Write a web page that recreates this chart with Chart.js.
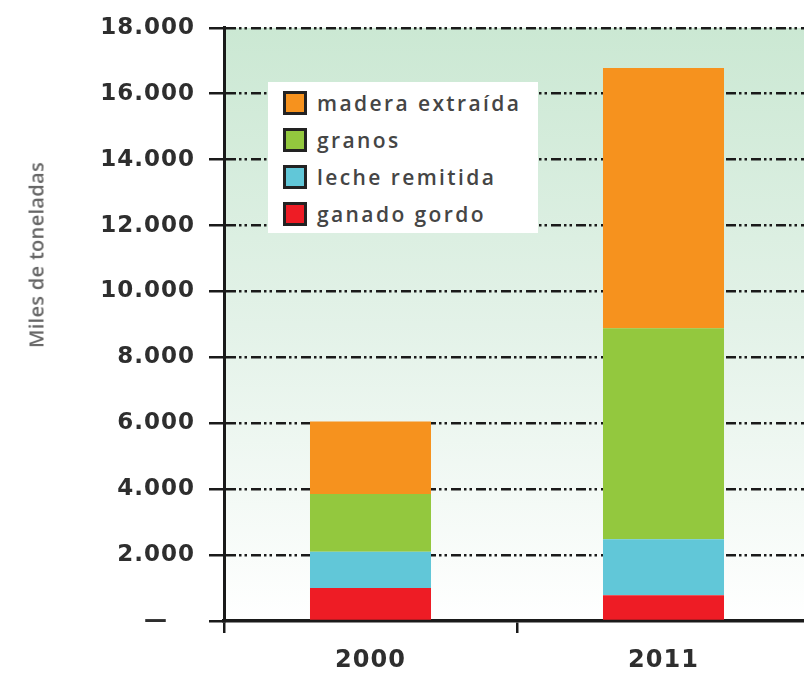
<!DOCTYPE html>
<html>
<head>
<meta charset="utf-8">
<script src="https://cdn.jsdelivr.net/npm/chart.js@4.4.1/dist/chart.umd.min.js"></script>
<style>
  body { margin: 0; background: #fff; overflow: hidden; }
  #wrap { position: relative; width: 804px; height: 693px; overflow: hidden; }
  #chartBox { position: absolute; left: 0; top: 0; width: 820px; height: 693px; }
  #yTitle {
    position: absolute; left: 36px; top: 255px;
    transform: translate(-50%, -50%) rotate(-90deg);
    font: 600 20px "Open Sans"; color: #666; white-space: nowrap; letter-spacing: 0.3px;
  }
  #legend {
    position: absolute; left: 268px; top: 82px; width: 270px; height: 151px;
    background: #fff; box-sizing: border-box; padding-top: 2px;
  }
  .item { height: 37px; display: flex; align-items: center; padding-left: 15px; }
  .sw { width: 18px; height: 18px; border: 3px solid #222; margin-right: 10px; }
  .item span { font: 600 21px "Open Sans"; color: #454545; letter-spacing: 2.4px; white-space: nowrap; }
</style>
</head>
<body>
<div id="wrap">
  <div id="chartBox"><canvas id="stockChart" width="820" height="693"></canvas></div>
  <div id="yTitle">Miles de toneladas</div>
  <div id="legend"></div>
</div>
<script>
// data (thousand tonnes)
const years = ['2000', '2011'];
const ganadoGordo = [1000, 780];
const lecheRemitida = [1100, 1700];
const granos = [1750, 6400];
const maderaExtraida = [2200, 7900];

const seriesNames = ['ganado gordo', 'leche remitida', 'granos', 'madera extraída'];
const seriesColors = ['#ee1c25', '#61c7d8', '#93c83e', '#f6921e'];

const yTickValues = [0, 2000, 4000, 6000, 8000, 10000, 12000, 14000, 16000, 18000];
const yTickLabels = ['—   ', '2.000', '4.000', '6.000', '8.000', '10.000', '12.000', '14.000', '16.000', '18.000'];

const ink = '#1a1a1a';

// background gradient + letter spacing for canvas text
const bgPlugin = {
    id: 'bgPlugin',
    beforeUpdate(chart) {
        chart.ctx.letterSpacing = '1px';
    },
    beforeDraw(chart) {
        const { ctx, chartArea } = chart;
        ctx.letterSpacing = '1px';
        const g = ctx.createLinearGradient(0, chartArea.top, 0, chartArea.bottom);
        g.addColorStop(0, '#cbe8d3');
        g.addColorStop(0.5, '#e3f2e8');
        g.addColorStop(1, '#ffffff');
        ctx.save();
        ctx.fillStyle = g;
        ctx.fillRect(chartArea.left, chartArea.top, chartArea.right - chartArea.left, chartArea.bottom - chartArea.top);
        ctx.restore();
    }
};

const allSeries = [ganadoGordo, lecheRemitida, granos, maderaExtraida];

const ctx = document.getElementById('stockChart').getContext('2d');
const chart = new Chart(ctx, {
    type: 'bar',
    data: {
        labels: years,
        datasets: allSeries.map((vals, i) => ({
            label: seriesNames[i],
            data: vals,
            backgroundColor: seriesColors[i],
            borderWidth: 0,
            barPercentage: 0.413,
            categoryPercentage: 1
        }))
    },
    options: {
        responsive: false,
        animation: false,
        events: [],
        layout: { padding: { top: 25, right: 10, left: 0, bottom: 0 } },
        plugins: {
            legend: { display: false },
            tooltip: { enabled: false }
        },
        scales: {
            x: {
                stacked: true,
                offset: true,
                afterFit: (s) => { s.height = 72; },
                grid: {
                    offset: true,
                    drawOnChartArea: false,
                    drawTicks: true,
                    tickLength: 12,
                    color: ink,
                    lineWidth: 2.5
                },
                border: { color: ink, width: 3.5 },
                ticks: {
                    padding: 13,
                    color: '#2e2e2e',
                    font: { family: 'DejaVu Sans', size: 24, weight: 'bold' }
                }
            },
            y: {
                stacked: true,
                min: 0,
                max: 18000,
                afterFit: (s) => { s.width = 224; },
                afterBuildTicks: (s) => { s.ticks = yTickValues.map(v => ({ value: v })); },
                grid: {
                    color: (c) => (c.tick && c.tick.value === 0) ? 'rgba(0,0,0,0)' : ink,
                    lineWidth: 2.5,
                    tickLength: 15,
                    tickColor: ink,
                    tickWidth: 2.5
                },
                border: { color: ink, width: 3, dash: [10, 3, 2.5, 3, 2.5, 4] },
                ticks: {
                    padding: 14,
                    color: '#2e2e2e',
                    font: { family: 'DejaVu Sans', size: 23, weight: 'bold' },
                    callback: (value) => yTickLabels[yTickValues.indexOf(value)]
                }
            }
        }
    },
    plugins: [bgPlugin]
});

// legend box, top series first
const legendEl = document.getElementById('legend');
for (let i = seriesNames.length - 1; i >= 0; i--) {
    const row = document.createElement('div');
    row.className = 'item';
    const sw = document.createElement('div');
    sw.className = 'sw';
    sw.style.background = seriesColors[i];
    const txt = document.createElement('span');
    txt.textContent = seriesNames[i];
    row.appendChild(sw);
    row.appendChild(txt);
    legendEl.appendChild(row);
}
</script>
</body>
</html>
